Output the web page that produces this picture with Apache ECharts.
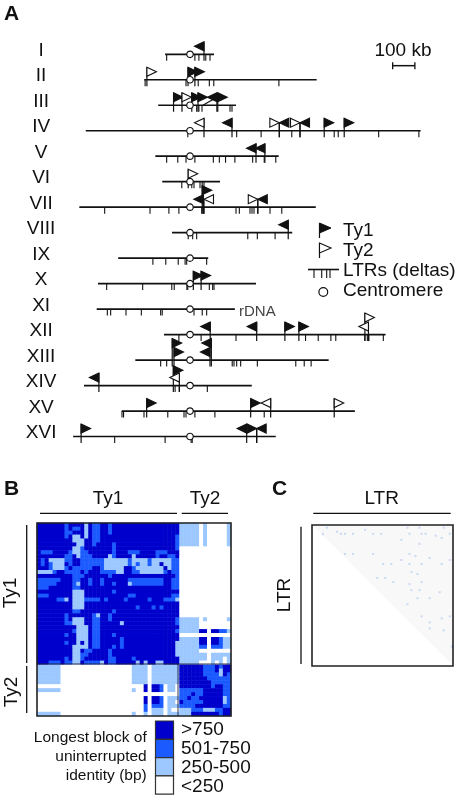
<!DOCTYPE html>
<html>
<head>
<meta charset="utf-8">
<style>html,body{margin:0;padding:0;background:#fff}#main{width:462px;height:800px}</style>
<script src="https://cdn.jsdelivr.net/npm/echarts@6/dist/echarts.min.js"></script>
</head>
<body>
<div id="main"></div>
<script>
// Panel A: positions are kb relative to the centromere
var chromNames = ["I","II","III","IV","V","VI","VII","VIII","IX","X","XI","XII","XIII","XIV","XV","XVI"];
var chromStarts = [-112,-206,-143,-469,-156,-125,-498,-81,-323,-414,-420,-117,-246,-477,-307,-526];
var chromEnds = [108,570,207,1038,399,135,566,460,82,297,202,880,624,278,742,386];
var ltrTicks = [
    [-105,22,40,71,90],
    [-202,-18,37,87,107,400],
    [30,40,54,180,189],
    [-10,210,320,458,649,667,849,1030],
    [-105,-55,-18,22,105,132,160,202,282,334,386],
    [-37,8,18,45,55,63],
    [-384,-180,-95,-50,53,62,207,222,270,279,288,360,413],
    [-8,12,30,260,303,383],
    [-167,-109,-53,-22,-15,75],
    [-375,-213,-82,-71,-14,-10,87,102,108],
    [-372,-357,-288,-219,-132,-125,18,55,75],
    [-50,50,207,520,577,634,656,787,798,805,870],
    [-132,-105,190,198,210,228,303,476,514,545],
    [-67,-48,78],
    [-306,-299,-207,-100,-27,-18,22,112,334],
    [-339,-112,5,10]
];
// flags: chromosome, kb, direction, stack level
// R/L have the pole on the flat edge, r/l have the pole at the tip
var ty1Flags = [
    [1,63,"L",0],[2,-9,"R",0],[2,22,"R",0],
    [3,-74,"R",0],[3,8,"R",0],[3,36,"R",0],[3,121,"L",0],[3,125,"R",0],
    [4,189,"L",0],[4,402,"l",0],[4,495,"l",0],[4,604,"R",0],[4,694,"R",0],
    [5,297,"L",0],[5,337,"L",0],
    [7,55,"R",1],[7,60,"L",0],[7,305,"l",0],
    [8,442,"L",0],[10,15,"R",0],[10,50,"R",0],
    [12,91,"L",0],[12,300,"L",0],[12,427,"R",0],[12,490,"R",0],
    [13,-80,"R",1],[13,-72,"R",0],[13,96,"L",1],[13,90,"L",0],
    [14,-410,"L",0],[14,-75,"R",0.8],
    [15,-195,"R",0],[15,273,"R",0],
    [16,-490,"R",0],[16,255,"L",0],[16,300,"r",0],[16,300,"l",0]
];
var ty2Flags = [
    [2,-194,"R",0],[3,-36,"R",0],
    [4,63,"L",0],[4,402,"r",0],[4,495,"r",0],
    [6,-8,"R",0],[7,63,"l",0],[7,305,"r",0],
    [12,787,"R",1],[12,803,"L",0],
    [14,-48,"L",0],[15,363,"L",0],[15,649,"R",0]
];
var slantPoles = [[3,58,121]];
var scaleBar = [912,1012];

// Panel B: 0 <250, 1 250-500, 2 501-750, 3 >750
var ty1Rows = [
    "333333323333132233233333333333333333",
    "333333323223132233233333333333333333",
    "333333322333132233233333333333333333",
    "333333323113132233333333333333333332",
    "333333333111332233333333333333333332",
    "333333333311332333323333333333333332",
    "333333333112333333323333333333333332",
    "322233332112233333323332223333222333",
    "333333322312223333123333133333233223",
    "323111122332222221111112111121111122",
    "323211132332222221111112121121131122",
    "333211123222223321111133211111113122",
    "111123322223233322221133221111112322",
    "333333333222333333233333333333333332",
    "222222333223323323333332222222223322",
    "222223333213323323323331222222223322",
    "222333333223333333333333333333333322",
    "333333333111333333323333333333333333",
    "222333333111333333333332233333333322",
    "333332213111222232333323333323332221",
    "333333333111333333333333333333333333",
    "333333333111333333333333323332323333",
    "333333333223333333323333333333333333",
    "333333323333332133233333333333333333",
    "333333323111332233233333333333333332",
    "333333322111332233333133333333333332",
    "333333333311132233333333333333333333",
    "333333333211132233333333333333333332",
    "333333323311132233323333333333333333",
    "333333333311132233333233333333333333",
    "333333323313132233333233333333333331",
    "333333333111132233323233333333333331",
    "333333333113223333233333333333333331",
    "333333333112233333233333333333333331",
    "333333323112333333223333233333333333",
    "333222322113222213223333313133113333"
];
var ty1ty2Rows = [
    "1111101000001","1111101000001","1111101000001","1111101000001","1111101000001","1111101000001",
    "0000000000000","0000000000000","0000000000000","0000000000000","0000000000000","0000000000000",
    "0000000000000","0000000000000","0000000000000","0000000000000","0000000000000","0000000000000",
    "0000000000000","0000000000000","0000000000000","0000000000000","0000000000000","0000000000000",
    "1111101000001","1111100000000","1111100000000","1111133033221","0000000000000","1111133033211",
    "1111133033211","1111122022211","1111100000000","1111111011111","1111111011101","1111100010101"
];
var ty2Rows = [
    "3333332223233","3333332223133","3333332222132","3333333222222","3333333322222","3333333323322",
    "2222223333322","2223223333322","2232233333312","3222223333312","2222333333322","1112221112233",
    "1113333333233"
];
var legendLabels = [">750","501-750","250-500","<250"];
var legendColors = ["#0000cc","#1a5aff","#9cc8ff","#ffffff"];

// Panel C: the few LTR pairs that rise above the background, [col,row]
var ltrSize = 70;
var ltrHits = [
    [7,1],[14,4],[16,4],[20,4],[30,4],[34,4],[48,4],[54,4],[56,4],[61,5],[65,1],[53,1],[47,1],[26,2],
    [16,14],[20,14],[30,14],[48,14],[51,15],[58,16],[35,19],[39,19],[44,17],[48,19],[54,19],[64,19],
    [68,17],[49,23],[52,24],[32,26],[36,26],[40,28],[48,29],[54,28],[63,33],[49,32],[53,32],[52,36],
    [58,36],[47,39],[54,45],[58,48],[64,46],[68,45],[58,51],[65,52],[69,60],[44,7],[53,9],[64,6],
    [68,4],[5,4],[12,3]
];

var INK = "#111";
var FONT = '"Liberation Sans", Arial, sans-serif';

function buildTyMatrix() {
    var out = [];
    for (var r = 0; r < 49; r++) {
        for (var c = 0; c < 49; c++) {
            var v;
            if (r < 36 && c < 36) v = ty1Rows[r][c];
            else if (r < 36) v = ty1ty2Rows[r][c - 36];
            else if (c < 36) v = ty1ty2Rows[c][r - 36];
            else v = ty2Rows[r - 36][c - 36];
            out.push([c, r, +v]);
        }
    }
    return out;
}

function buildLtrMatrix() {
    var out = [];
    var hits = {};
    ltrHits.forEach(function (h) { hits[h[0] + "_" + h[1]] = 1; });
    for (var r = 0; r < ltrSize; r++) {
        for (var c = r + 1; c < ltrSize; c++) {
            out.push([c, r, hits[c + "_" + r] ? 1 : 0]);
        }
    }
    return out;
}

function indexList(n) {
    var a = [];
    for (var i = 0; i < n; i++) a.push(i);
    return a;
}

function seg(x1, y1, x2, y2, w) {
    return { type: "line", shape: { x1: x1, y1: y1, x2: x2, y2: y2 }, style: { stroke: INK, lineWidth: w || 1.1 } };
}

function flagShape(x, cy, dir, filled) {
    var w = 9.5, h = 4.5, pts;
    if (dir === "R") pts = [[x, cy - h], [x + w, cy], [x, cy + h]];
    if (dir === "L") pts = [[x, cy - h], [x - w, cy], [x, cy + h]];
    if (dir === "r") pts = [[x - w, cy - h], [x, cy], [x - w, cy + h]];
    if (dir === "l") pts = [[x + w, cy - h], [x, cy], [x + w, cy + h]];
    return { type: "polygon", shape: { points: pts }, style: { fill: filled ? INK : "#fff", stroke: INK, lineWidth: 1.1 } };
}

function flagSeries(list, filled) {
    return {
        type: "custom", xAxisIndex: 0, yAxisIndex: 0, clip: false, z: 4,
        data: list.map(function (f) { return [f[1], f[0]]; }),
        renderItem: function (params, api) {
            var f = list[params.dataIndex];
            var p = api.coord([f[1], f[0]]);
            var cy = p[1] - 8 - f[3] * 9;
            var tipMode = f[2] === "r" || f[2] === "l";
            return {
                type: "group",
                children: [
                    seg(p[0], p[1] + 6.5, p[0], tipMode ? cy : cy - 4.5, 1.2),
                    flagShape(p[0], cy, f[2], filled)
                ]
            };
        }
    };
}

var option = {
    animation: false,
    backgroundColor: "#fff",
    grid: [
        { left: 0, top: 28.8, width: 462, height: 433.2 },
        { left: 37, top: 523, width: 194, height: 193 },
        { left: 312, top: 525, width: 141, height: 141 }
    ],
    xAxis: [
        { type: "value", gridIndex: 0, min: -855, max: 1224, show: false },
        { type: "category", gridIndex: 1, data: indexList(49), show: false },
        { type: "category", gridIndex: 2, data: indexList(ltrSize), show: false }
    ],
    yAxis: [
        { type: "value", gridIndex: 0, min: 0, max: 17, inverse: true, show: false },
        { type: "category", gridIndex: 1, data: indexList(49), inverse: true, show: false },
        { type: "category", gridIndex: 2, data: indexList(ltrSize), inverse: true, show: false }
    ],
    visualMap: [
        {
            show: false, type: "piecewise", seriesIndex: 7, dimension: 2,
            pieces: [
                { value: 0, color: legendColors[3] }, { value: 1, color: legendColors[2] },
                { value: 2, color: legendColors[1] }, { value: 3, color: legendColors[0] }
            ]
        },
        {
            show: false, type: "piecewise", seriesIndex: 8, dimension: 2,
            pieces: [{ value: 0, color: "#f8f8f8" }, { value: 1, color: "#c9d9f2" }]
        }
    ],
    series: [
        {
            // chromosome backbones
            type: "custom", xAxisIndex: 0, yAxisIndex: 0, clip: false, z: 2,
            data: chromNames.map(function (n, i) { return [chromStarts[i], chromEnds[i], i + 1]; }),
            renderItem: function (params, api) {
                var a = api.coord([api.value(0), api.value(2)]);
                var b = api.coord([api.value(1), api.value(2)]);
                return seg(a[0], a[1], b[0], b[1], 1.7);
            }
        },
        {
            // LTR ticks
            type: "custom", xAxisIndex: 0, yAxisIndex: 0, clip: false, z: 2,
            data: ltrTicks.reduce(function (acc, row, i) {
                return acc.concat(row.map(function (kb) { return [kb, i + 1]; }));
            }, []),
            renderItem: function (params, api) {
                var p = api.coord([api.value(0), api.value(1)]);
                return seg(p[0], p[1], p[0], p[1] + 6.5, 1.1);
            }
        },
        flagSeries(ty1Flags, true),
        flagSeries(ty2Flags, false),
        {
            // slanted pole of the back-to-back pair on III
            type: "custom", xAxisIndex: 0, yAxisIndex: 0, clip: false, z: 3,
            data: slantPoles,
            renderItem: function (params, api) {
                var a = api.coord([api.value(1), api.value(0)]);
                var b = api.coord([api.value(2), api.value(0)]);
                return seg(a[0], a[1], b[0], b[1] - 8, 1.2);
            }
        },
        {
            // centromeres sit at kb 0
            type: "scatter", xAxisIndex: 0, yAxisIndex: 0, z: 5, symbolSize: 6.5,
            itemStyle: { color: "#fff", borderColor: INK, borderWidth: 1.2, opacity: 1 },
            data: chromNames.map(function (n, i) { return [0, i + 1]; })
        },
        {
            // chromosome names and the scale bar
            type: "custom", xAxisIndex: 0, yAxisIndex: 0, clip: false, z: 5,
            data: chromNames.map(function (n, i) { return [-670, i + 1]; }),
            renderItem: function (params, api) {
                var p = api.coord([api.value(0), api.value(1)]);
                var kids = [{
                    type: "text",
                    style: {
                        text: chromNames[params.dataIndex], x: p[0], y: p[1] - 3.5,
                        align: "center", verticalAlign: "middle", fill: INK, font: "19px " + FONT
                    }
                }];
                if (params.dataIndex === 0) {
                    var a = api.coord([scaleBar[0], 1.447]);
                    var b = api.coord([scaleBar[1], 1.447]);
                    kids.push(seg(a[0], a[1], b[0], b[1], 1.5));
                    kids.push(seg(a[0], a[1] - 3.5, a[0], a[1] + 3.5, 1.3));
                    kids.push(seg(b[0], b[1] - 3.5, b[0], b[1] + 3.5, 1.3));
                }
                return { type: "group", children: kids };
            }
        },
        {
            type: "heatmap", xAxisIndex: 1, yAxisIndex: 1, data: buildTyMatrix(), progressive: 0,
            itemStyle: { borderWidth: 0 }
        },
        {
            type: "heatmap", xAxisIndex: 2, yAxisIndex: 2, data: buildLtrMatrix(), progressive: 0,
            itemStyle: { borderWidth: 0 }
        }
    ],
    graphic: { elements: buildGraphics() }
};

function txt(s, x, y, size, extra) {
    var o = {
        type: "text", x: x, y: y, z: 20, rotation: (extra && extra.rotation) || 0,
        style: {
            text: s, x: 0, y: 0, fill: (extra && extra.fill) || INK,
            font: ((extra && extra.weight) || "normal") + " " + size + "px " + FONT,
            align: (extra && extra.align) || "left", verticalAlign: "middle"
        }
    };
    return o;
}

function gLine(x1, y1, x2, y2, w, color) {
    return { type: "line", z: 20, shape: { x1: x1, y1: y1, x2: x2, y2: y2 }, style: { stroke: color || INK, lineWidth: w } };
}

function frame(x, y, w, h) {
    return { type: "rect", z: 21, shape: { x: x, y: y, width: w, height: h }, style: { fill: "none", stroke: "#222", lineWidth: 1.6 } };
}

function buildGraphics() {
    var g = [
        txt("A", 4, 14, 21, { weight: "bold" }),
        txt("B", 4, 489, 21, { weight: "bold" }),
        txt("C", 272, 489, 21, { weight: "bold" }),
        txt("100 kb", 403, 50.5, 19, { align: "center" }),
        txt("rDNA", 239, 312, 15, { fill: "#444" }),
        // legend of panel A
        gLine(319.5, 223, 319.5, 238, 1.2),
        { type: "polygon", z: 20, shape: { points: [[319.5, 223], [331, 228], [319.5, 233]] }, style: { fill: INK, stroke: INK, lineWidth: 1 } },
        gLine(319.5, 243, 319.5, 258, 1.2),
        { type: "polygon", z: 20, shape: { points: [[319.5, 243], [331, 248], [319.5, 253]] }, style: { fill: "#fff", stroke: INK, lineWidth: 1.1 } },
        gLine(308, 269.5, 339, 269.5, 1.6),
        gLine(314, 269.5, 314, 278, 1.1), gLine(321.7, 269.5, 321.7, 278, 1.1),
        gLine(326.7, 269.5, 326.7, 278, 1.1), gLine(330, 269.5, 330, 278, 1.1),
        { type: "circle", z: 20, shape: { cx: 323.3, cy: 292, r: 4.4 }, style: { fill: "#fff", stroke: INK, lineWidth: 1.2 } },
        txt("Ty1", 343, 230.5, 19),
        txt("Ty2", 343, 251, 19),
        txt("LTRs (deltas)", 343, 271, 19),
        txt("Centromere", 343, 291, 19),
        // panel B furniture
        txt("Ty1", 108, 499, 19, { align: "center" }),
        txt("Ty2", 205, 499, 19, { align: "center" }),
        gLine(40, 513.3, 177, 513.3, 1.3),
        gLine(181.7, 513.3, 228, 513.3, 1.3),
        gLine(26.7, 525, 26.7, 663, 1.3),
        gLine(26.7, 666, 26.7, 713, 1.3),
        txt("Ty1", 11, 593, 19, { align: "center", rotation: Math.PI / 2 }),
        txt("Ty2", 12, 692, 19, { align: "center", rotation: Math.PI / 2 }),
        gLine(37, 664, 231, 664, 0.9, "#223"),
        gLine(178, 664, 178, 716, 0.9, "#223"),
        frame(37, 523, 194, 193),
        // panel C furniture
        txt("LTR", 381.7, 499, 19, { align: "center" }),
        gLine(313.3, 513.3, 450.7, 513.3, 1.3),
        gLine(301, 526.7, 301, 664, 1.3),
        txt("LTR", 285, 595, 19, { align: "center", rotation: Math.PI / 2 }),
        frame(312, 525, 141, 141),
        // colour key
        txt("Longest block of", 146.7, 738, 15.5, { align: "right" }),
        txt("uninterrupted", 146.7, 757, 15.5, { align: "right" }),
        txt("identity (bp)", 146.7, 776, 15.5, { align: "right" })
    ];
    legendLabels.forEach(function (label, i) {
        g.push({
            type: "rect", z: 20, shape: { x: 155.5, y: 721 + i * 18.3, width: 18, height: 18.3 },
            style: { fill: legendColors[i], stroke: "#333", lineWidth: 1.2 }
        });
        g.push(txt(label, 181, 730 + i * 19, 19));
    });
    return g;
}

var myChart = echarts.init(document.getElementById("main"));
myChart.setOption(option);
</script>
</body>
</html>
